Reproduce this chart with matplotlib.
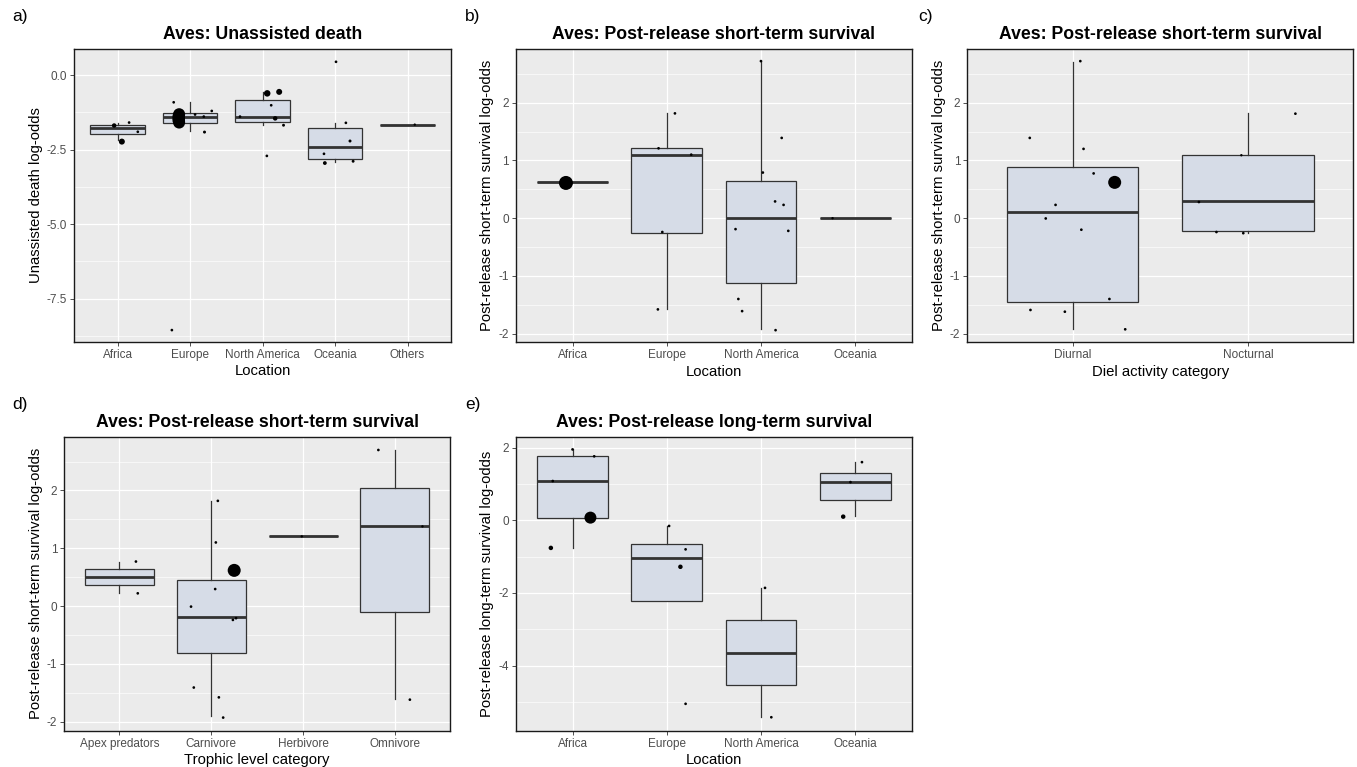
import matplotlib
matplotlib.use("Agg")
import matplotlib.pyplot as plt
import numpy as np
from matplotlib.ticker import MultipleLocator

plt.rcParams['font.family'] = ['Liberation Sans', 'DejaVu Sans']
plt.rcParams['axes.unicode_minus'] = False

# ---------------- Panel a: Unassisted death ----------------
a_cats = ["Africa", "Europe", "North America", "Oceania", "Others"]
a_q1 = [-1.98, -1.60, -1.56, -2.82, -1.66]
a_med = [-1.78, -1.40, -1.40, -2.42, -1.66]
a_q3 = [-1.66, -1.26, -0.82, -1.76, -1.66]
a_wlo = [-2.17, -1.87, -1.66, -2.91, -1.66]
a_whi = [-1.59, -0.91, -0.57, -1.61, -1.66]
a_pcat = [0, 0, 0, 0,
          1, 1, 1, 1, 1, 1, 1, 1, 1, 1, 1,
          2, 2, 2, 2, 2, 2, 2,
          3, 3, 3, 3, 3, 3,
          4]
a_pval = [-2.23, -1.69, -1.59, -1.90,
          -1.31, -1.38, -1.45, -1.52, -1.59, -0.91, -1.32, -1.39, -1.20, -1.91, -8.56,
          -0.61, -0.56, -1.01, -1.45, -1.68, -1.39, -2.71,
          0.45, -1.60, -2.21, -2.64, -2.95, -2.89,
          -1.66]
a_pw = [6, 4.5, 2.7, 2.7,
        12, 12.5, 12.5, 12.5, 12, 2.7, 2.7, 2.7, 2.7, 3.0, 2.7,
        6.5, 6, 2.7, 4.5, 2.9, 2.7, 2.7,
        2.7, 2.7, 3.0, 2.7, 3.8, 2.9,
        2.4]
a_jit = [0.06, -0.046, 0.16, 0.28,
         -0.15, -0.155, -0.155, -0.155, -0.15, -0.225, 0.07, 0.19, 0.30, 0.20, -0.25,
         0.065, 0.23, 0.12, 0.175, 0.29, -0.31, 0.06,
         0.014, 0.15, 0.207, -0.152, -0.14, 0.25,
         0.10]

# ---------------- Panel b: Short-term survival by location ----------------
b_cats = ["Africa", "Europe", "North America", "Oceania"]
b_q1 = [0.624, -0.25, -1.115, 0.0]
b_med = [0.624, 1.10, 0.01, 0.0]
b_q3 = [0.624, 1.21, 0.65, 0.0]
b_wlo = [0.624, -1.57, -1.925, 0.0]
b_whi = [0.624, 1.815, 2.72, 0.0]
b_pcat = [0,
          1, 1, 1, 1, 1,
          2, 2, 2, 2, 2, 2, 2, 2, 2, 2,
          3]
b_pval = [0.61,
          1.815, 1.21, 1.10, -0.24, -1.58,
          2.72, 1.39, 0.79, 0.29, 0.23, -0.19, -0.22, -1.40, -1.61, -1.94,
          0.0]
b_pw = [14,
        2.7, 2.7, 2.7, 2.7, 2.7,
        2.7, 2.7, 2.7, 2.7, 2.7, 2.7, 2.7, 2.7, 2.7, 2.7,
        2.4]
b_jit = [-0.07,
         0.087, -0.087, 0.26, -0.047, -0.094,
         0.0, 0.22, 0.02, 0.15, 0.24, -0.27, 0.29, -0.24, -0.20, 0.155,
         -0.24]

# ---------------- Panel c: Short-term survival by diel activity ----------------
c_cats = ["Diurnal", "Nocturnal"]
c_q1 = [-1.445, -0.214]
c_med = [0.115, 0.29]
c_q3 = [0.88, 1.10]
c_wlo = [-1.925, -0.25]
c_whi = [2.71, 1.815]
c_pcat = [0, 0, 0, 0, 0, 0, 0, 0, 0, 0, 0, 0,
          1, 1, 1, 1, 1]
c_pval = [2.72, 1.39, 1.20, 0.775, 0.62, 0.23, -0.005, -0.20, -1.40, -1.59, -1.62, -1.925,
          1.81, 1.09, 0.28, -0.24, -0.26]
c_pw = [2.7, 2.7, 2.7, 2.7, 13, 2.7, 2.7, 2.7, 2.7, 2.7, 2.7, 2.7,
        2.7, 2.4, 2.7, 2.7, 2.7]
c_jit = [0.044, -0.244, 0.0625, 0.12, 0.24, -0.097, -0.153, 0.05, 0.21, -0.24, -0.044, 0.30,
         0.27, -0.038, -0.28, -0.18, -0.027]

# ---------------- Panel d: Short-term survival by trophic level ----------------
d_cats = ["Apex predators", "Carnivore", "Herbivore", "Omnivore"]
d_q1 = [0.357, -0.82, 1.205, -0.11]
d_med = [0.496, -0.19, 1.205, 1.378]
d_q3 = [0.634, 0.45, 1.205, 2.035]
d_wlo = [0.225, -1.91, 1.205, -1.60]
d_whi = [0.77, 1.81, 1.205, 2.70]
d_pcat = [0, 0,
          1, 1, 1, 1, 1, 1, 1, 1, 1, 1,
          2,
          3, 3, 3]
d_pval = [0.77, 0.22,
          1.82, 1.10, 0.617, 0.294, -0.01, -0.24, -0.21, -1.41, -1.58, -1.93,
          1.205,
          2.70, 1.378, -1.62]
d_pw = [2.7, 2.7,
        2.7, 2.7, 13, 2.7, 2.7, 2.7, 2.7, 2.7, 2.7, 2.7,
        2.4,
        2.7, 2.4, 2.7]
d_jit = [0.18, 0.20,
         0.072, 0.05, 0.25, 0.043, -0.22, 0.236, 0.27, -0.19, 0.083, 0.13,
         -0.014,
         -0.18, 0.30, 0.163]

# ---------------- Panel e: Long-term survival by location ----------------
e_cats = ["Africa", "Europe", "North America", "Oceania"]
e_q1 = [0.073, -2.22, -4.53, 0.57]
e_med = [1.08, -1.03, -3.64, 1.04]
e_q3 = [1.77, -0.64, -2.75, 1.31]
e_wlo = [-0.76, -2.22, -5.42, 0.11]
e_whi = [1.97, -0.17, -1.85, 1.60]
e_pcat = [0, 0, 0, 0, 0,
          1, 1, 1, 1,
          2, 2,
          3, 3, 3]
e_pval = [1.95, 1.76, 1.08, 0.073, -0.76,
          -0.156, -0.80, -1.28, -5.05,
          -1.86, -5.42,
          1.60, 1.05, 0.10]
e_pw = [2.7, 2.7, 2.7, 12, 4.5,
        2.7, 2.7, 4.5, 2.7,
        2.7, 2.7,
        2.7, 2.7, 4.5]
e_jit = [0.0, 0.23, -0.21, 0.19, -0.23,
         0.025, 0.20, 0.145, 0.20,
         0.043, 0.11,
         0.072, -0.05, -0.127]

W, H = 1357, 767
fig = plt.figure(figsize=(W / 100, H / 100), dpi=100)

BG = "#EBEBEB"
BOXFILL = "#D6DCE7"
DARK = "#333333"


def px_axes(l, r, t, b):
    return fig.add_axes([l / W, (H - b) / H, (r - l) / W, (b - t) / H])


def panel(ax, cats, q1, med, q3, wlo, whi, pcat, pval, pw, jit,
          ylim, yticks, ytl, minor_step, title, xlabel, ylabel, label, lab_xy):
    n = len(cats)
    pos = np.arange(1, n + 1)
    stats = [dict(med=med[i], q1=q1[i], q3=q3[i], whislo=wlo[i], whishi=whi[i], fliers=[])
             for i in range(n)]
    ax.set_facecolor(BG)
    ax.set_axisbelow(True)
    ax.bxp(stats, positions=pos, widths=0.75, showfliers=False, showcaps=False,
           patch_artist=True,
           boxprops=dict(facecolor=BOXFILL, edgecolor=DARK, linewidth=0.9),
           medianprops=dict(color=DARK, linewidth=2.0, solid_capstyle='butt'),
           whiskerprops=dict(color=DARK, linewidth=0.9))
    xs = pos[np.array(pcat)] + np.array(jit)
    ax.scatter(xs, pval, s=(np.array(pw) * 0.72) ** 2, color='black', linewidths=0, zorder=4)
    ax.set_xlim(0.4, n + 0.6)
    ax.set_ylim(*ylim)
    ax.set_xticks(pos)
    ax.set_xticklabels(cats)
    ax.set_yticks(yticks)
    ax.set_yticklabels(ytl)
    ax.yaxis.set_minor_locator(MultipleLocator(minor_step))
    ax.grid(True, which='major', color='white', linewidth=0.9)
    ax.grid(True, which='minor', axis='y', color='white', linewidth=0.45)
    ax.tick_params(axis='both', which='major', length=3, width=0.6, color=DARK,
                   labelsize=8.5, labelcolor='#4D4D4D', pad=2)
    ax.tick_params(axis='both', which='minor', length=0)
    for s in ax.spines.values():
        s.set_color('#1A1A1A')
        s.set_linewidth(1.0)
    ax.set_title(title, fontsize=12.7, fontweight='bold', pad=7)
    ax.set_xlabel(xlabel, fontsize=10.7, labelpad=2.5)
    ax.set_ylabel(ylabel, fontsize=10.7, labelpad=3)
    fig.text(lab_xy[0] / W, 1 - lab_xy[1] / H, label, fontsize=12.5, ha='left', va='center')


ax_a = px_axes(74, 451, 49, 342)
panel(ax_a, a_cats, a_q1, a_med, a_q3, a_wlo, a_whi, a_pcat, a_pval, a_pw, a_jit,
      (-8.96, 0.88), [0.0, -2.5, -5.0, -7.5], ["0.0", "-2.5", "-5.0", "-7.5"], 1.25,
      "Aves: Unassisted death", "Location", "Unassisted death log-odds", "a)", (12, 16))

ax_b = px_axes(516, 911.7, 49, 342.3)
panel(ax_b, b_cats, b_q1, b_med, b_q3, b_wlo, b_whi, b_pcat, b_pval, b_pw, b_jit,
      (-2.15, 2.93), [-2, -1, 0, 1, 2], ["-2", "-1", "0", "1", "2"], 0.5,
      "Aves: Post-release short-term survival", "Location",
      "Post-release short-term survival log-odds", "b)", (465, 16))

ax_c = px_axes(967.3, 1353.3, 49, 342.3)
panel(ax_c, c_cats, c_q1, c_med, c_q3, c_wlo, c_whi, c_pcat, c_pval, c_pw, c_jit,
      (-2.15, 2.93), [-2, -1, 0, 1, 2], ["-2", "-1", "0", "1", "2"], 0.5,
      "Aves: Post-release short-term survival", "Diel activity category",
      "Post-release short-term survival log-odds", "c)", (918, 16))

ax_d = px_axes(64.3, 450, 436.7, 730.7)
panel(ax_d, d_cats, d_q1, d_med, d_q3, d_wlo, d_whi, d_pcat, d_pval, d_pw, d_jit,
      (-2.157, 2.93), [-2, -1, 0, 1, 2], ["-2", "-1", "0", "1", "2"], 0.5,
      "Aves: Post-release short-term survival", "Trophic level category",
      "Post-release short-term survival log-odds", "d)", (12, 405))

ax_e = px_axes(516, 911.7, 436.7, 730.7)
panel(ax_e, e_cats, e_q1, e_med, e_q3, e_wlo, e_whi, e_pcat, e_pval, e_pw, e_jit,
      (-5.79, 2.30), [-4, -2, 0, 2], ["-4", "-2", "0", "2"], 1.0,
      "Aves: Post-release long-term survival", "Location",
      "Post-release long-term survival log-odds", "e)", (465, 405))

fig.savefig("out.png", dpi=100, facecolor='white')
